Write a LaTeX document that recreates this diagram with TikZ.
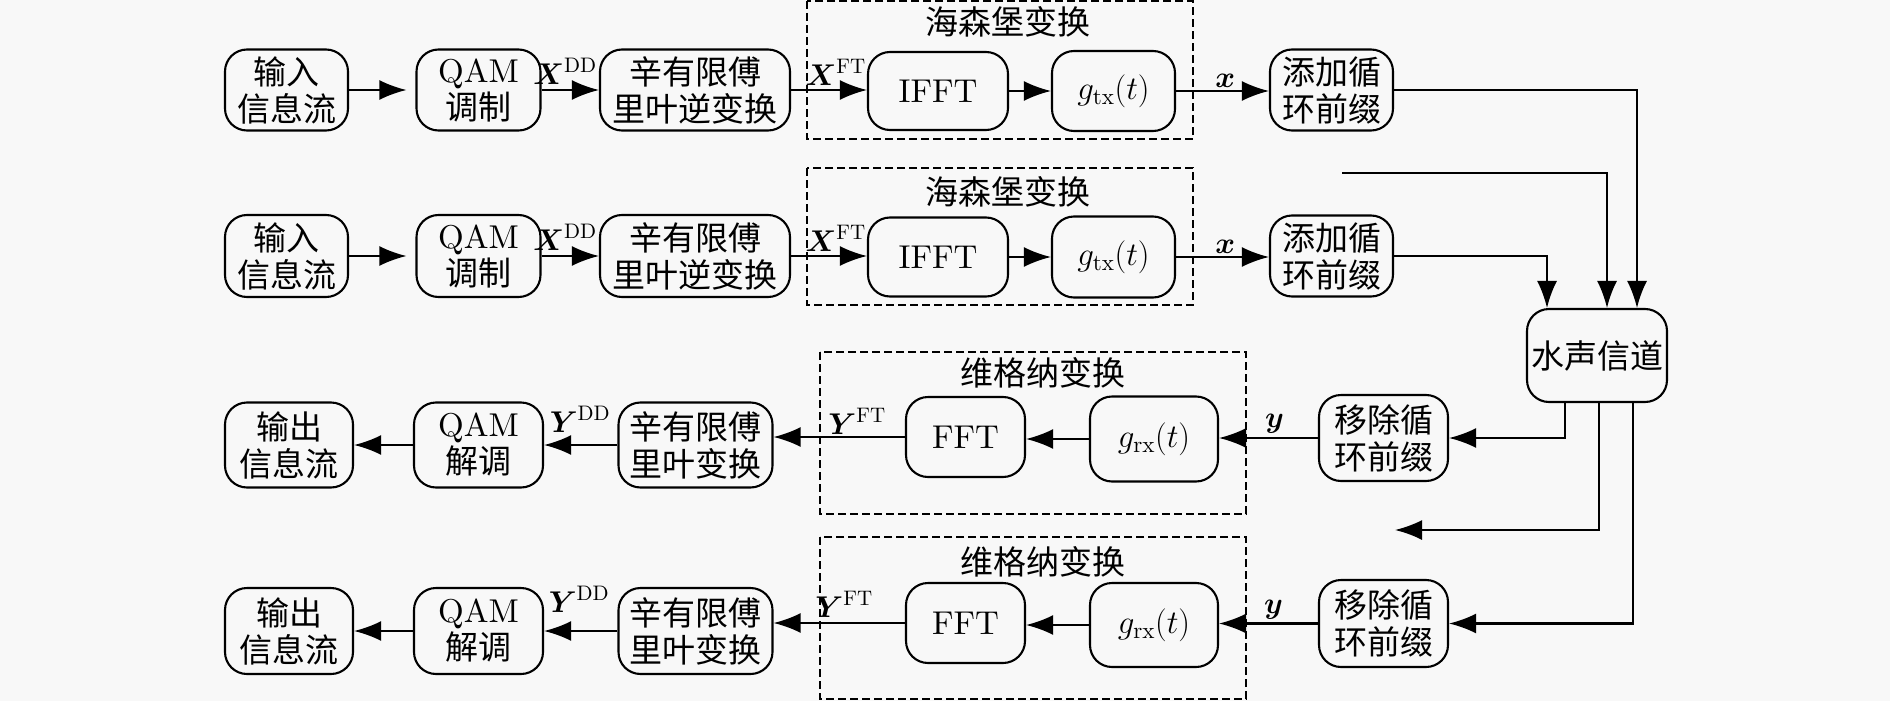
\RequirePackage{fix-cm}
\documentclass[tikz,border=0pt]{standalone}
\usepackage{amsmath}
\usepackage{fontspec}
\setmainfont{lmroman10-regular.otf}[BoldFont=lmroman10-bold.otf,ItalicFont=lmroman10-italic.otf]
\newfontfamily\cjk{Noto Sans CJK SC}
\usetikzlibrary{arrows.meta,calc}
\definecolor{bg}{RGB}{248,248,248}
\begin{document}
\begin{tikzpicture}[x=1pt,y=-1pt,
  box/.style={draw, line width=2.1pt, rounded corners=22pt, align=center, inner sep=0pt, font=\fontsize{33}{37}\selectfont},
  cbox/.style={box, font=\fontsize{33}{37}\selectfont\cjk},
  grp/.style={draw, line width=2pt, dash pattern=on 8pt off 4pt},
  arr/.style={line width=2.1pt, -{Latex[length=27pt,width=20pt]}},
  lbl/.style={inner sep=0pt, font=\fontsize{30}{30}\selectfont},
  ttl/.style={inner sep=0pt, font=\fontsize{33}{37}\selectfont\cjk}]
\fill[bg] (0,0) rectangle (1890,701);
\useasboundingbox (0,0) rectangle (1890,701);

% dashed groups
\draw[grp] (807,1) rectangle (1193,139);
\draw[grp] (807,168) rectangle (1193,305);
\draw[grp] (820,352) rectangle (1246,514);
\draw[grp] (820,537) rectangle (1246,699);
\node[ttl] (t1) at (1008,22) {海森堡变换};
\node[ttl] (t2) at (1008,192) {海森堡变换};
\node[ttl] (t3) at (1043,373) {维格纳变换};
\node[ttl] (t4) at (1043,562) {维格纳变换};

% row 1
\node[cbox, minimum width=123pt, minimum height=81pt] (in1) at (286.5,90) {输入\\信息流};
\node[box, minimum width=124pt, minimum height=81pt] (qam1) at (478.5,90) {QAM\\{\cjk 调制}};
\node[cbox, minimum width=190pt, minimum height=81pt] (xin1) at (695,90) {辛有限傅\\里叶逆变换};
\node[box, minimum width=140pt, minimum height=78pt] (ifft1) at (938,91) {IFFT};
\node[box, minimum width=123pt, minimum height=80pt] (g1) at (1113.5,91) {$g_{\mathrm{tx}}(t)$};
\node[cbox, minimum width=123pt, minimum height=81pt] (ad1) at (1331.5,90) {添加循\\环前缀};

% row 2
\node[cbox, minimum width=123pt, minimum height=82pt] (in2) at (286.5,256) {输入\\信息流};
\node[box, minimum width=124pt, minimum height=82pt] (qam2) at (478.5,256) {QAM\\{\cjk 调制}};
\node[cbox, minimum width=190pt, minimum height=82pt] (xin2) at (695,256) {辛有限傅\\里叶逆变换};
\node[box, minimum width=140pt, minimum height=79pt] (ifft2) at (938,257) {IFFT};
\node[box, minimum width=123pt, minimum height=81pt] (g2) at (1113.5,257) {$g_{\mathrm{tx}}(t)$};
\node[cbox, minimum width=123pt, minimum height=81pt] (ad2) at (1331.5,256) {添加循\\环前缀};

% channel
\node[cbox, minimum width=140pt, minimum height=93pt] (ch) at (1597,355.5) {水声信道};

% row 3
\node[cbox, minimum width=128pt, minimum height=85pt] (out3) at (289,445) {输出\\信息流};
\node[box, minimum width=129pt, minimum height=85pt] (dem3) at (478.5,445) {QAM\\{\cjk 解调}};
\node[cbox, minimum width=154pt, minimum height=85pt] (sft3) at (695.5,445) {辛有限傅\\里叶变换};
\node[box, minimum width=119pt, minimum height=80pt] (fft3) at (965.5,437) {FFT};
\node[box, minimum width=128pt, minimum height=85pt] (grx3) at (1154,439) {$g_{\mathrm{rx}}(t)$};
\node[cbox, minimum width=129pt, minimum height=86pt] (rm3) at (1383.5,438) {移除循\\环前缀};

% row 4
\node[cbox, minimum width=128pt, minimum height=86pt] (out4) at (289,631) {输出\\信息流};
\node[box, minimum width=129pt, minimum height=86pt] (dem4) at (478.5,631) {QAM\\{\cjk 解调}};
\node[cbox, minimum width=154pt, minimum height=86pt] (sft4) at (695.5,631) {辛有限傅\\里叶变换};
\node[box, minimum width=119pt, minimum height=80pt] (fft4) at (965.5,623) {FFT};
\node[box, minimum width=128pt, minimum height=84pt] (grx4) at (1154,625) {$g_{\mathrm{rx}}(t)$};
\node[cbox, minimum width=129pt, minimum height=87pt] (rm4) at (1383.5,623.5) {移除循\\环前缀};

% free ends
\coordinate (fr2) at (1342,173);
\coordinate (fr3) at (1395,530);

% row 1 connectors
\draw[arr, shorten >=9pt] (in1) -- (qam1);
\draw[arr] (qam1) -- (xin1);
\draw[arr] (xin1.east) -- (xin1.east -| ifft1.west);
\draw[arr] (ifft1) -- (g1);
\draw[arr] (g1.east) -- (g1.east -| ad1.west);
\draw[arr] (ad1.east) -| ([xshift=40pt]ch.north);
% row 2 connectors
\draw[arr, shorten >=9pt] (in2) -- (qam2);
\draw[arr] (qam2) -- (xin2);
\draw[arr] (xin2.east) -- (xin2.east -| ifft2.west);
\draw[arr] (ifft2) -- (g2);
\draw[arr] (g2.east) -- (g2.east -| ad2.west);
\draw[arr] (ad2.east) -| ([xshift=-50pt]ch.north);
\draw[arr] (fr2) -| ([xshift=10pt]ch.north);
% channel outputs
\draw[arr] ([xshift=-32pt]ch.south) |- (rm3.east);
\draw[arr] ([xshift=2pt]ch.south) |- (fr3);
\draw[arr] ([xshift=36pt]ch.south) |- (rm4.east);
% row 3 connectors
\draw[arr] (rm3.west) -- (rm3.west -| grx3.east);
\draw[arr] (grx3.west) -- (grx3.west -| fft3.east);
\draw[arr] (fft3.west) -- (fft3.west -| sft3.east);
\draw[arr] (sft3) -- (dem3);
\draw[arr] (dem3) -- (out3);
% row 4 connectors
\draw[arr] (rm4.west) -- (rm4.west -| grx4.east);
\draw[arr] (grx4.west) -- (grx4.west -| fft4.east);
\draw[arr] (fft4.west) -- (fft4.west -| sft4.east);
\draw[arr] (sft4) -- (dem4);
\draw[arr] (dem4) -- (out4);

% labels
\node[lbl, anchor=south east] (lxdd1) at ([xshift=-2pt,yshift=5pt]xin1.west) {$\boldsymbol{X}^{\mathrm{DD}}$};
\node[lbl, anchor=south east] (lxdd2) at ([xshift=-2pt,yshift=5pt]xin2.west) {$\boldsymbol{X}^{\mathrm{DD}}$};
\node[lbl, anchor=south east] (lxft1) at ([xshift=-1pt,yshift=5pt]ifft1.west) {$\boldsymbol{X}^{\mathrm{FT}}$};
\node[lbl, anchor=south east] (lxft2) at ([xshift=-1pt,yshift=5pt]ifft2.west) {$\boldsymbol{X}^{\mathrm{FT}}$};
\path (g1) -- node[lbl, pos=0.53, above=3pt] (lx1) {$\boldsymbol{x}$} (ad1);
\path (g2) -- node[lbl, pos=0.53, above=3pt] (lx2) {$\boldsymbol{x}$} (ad2);
\node[lbl, anchor=south east] (lydd3) at ([xshift=-7pt,yshift=12pt]sft3.west) {$\boldsymbol{Y}^{\mathrm{DD}}$};
\node[lbl, anchor=south east] (lydd4) at ([xshift=-8pt,yshift=18pt]sft4.west) {$\boldsymbol{Y}^{\mathrm{DD}}$};
\node[lbl, anchor=south east] (lyft3) at ([xshift=-19pt,yshift=2pt]fft3.west) {$\boldsymbol{Y}^{\mathrm{FT}}$};
\node[lbl, anchor=south east] (lyft4) at ([xshift=-32pt,yshift=5pt]fft4.west) {$\boldsymbol{Y}^{\mathrm{FT}}$};
\path (grx3) -- node[lbl, pos=0.56, above=5pt] (ly3) {$\boldsymbol{y}$} (rm3);
\path (grx4) -- node[lbl, pos=0.55, above=5pt] (ly4) {$\boldsymbol{y}$} (rm4);
\end{tikzpicture}
\end{document}
